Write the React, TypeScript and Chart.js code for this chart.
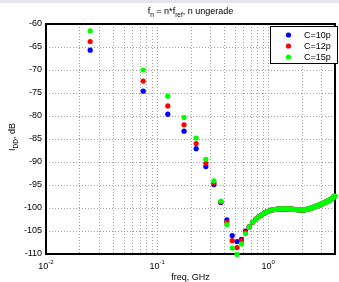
import React, { useEffect, useRef } from 'react';
import { Chart, registerables } from 'chart.js';

Chart.register(...registerables);

// frequencies of odd harmonics f_n = n * f_ref (GHz)
const freqGHz: number[] = [
  0.025, 0.075, 0.125, 0.175, 0.225, 0.275, 0.325, 0.375, 0.425, 0.475,
  0.525, 0.575, 0.625, 0.675, 0.725, 0.775, 0.825, 0.875, 0.925, 0.975,
  1.025, 1.075, 1.125, 1.175, 1.225, 1.275, 1.325, 1.375, 1.425, 1.475,
  1.525, 1.575, 1.625, 1.675, 1.725, 1.775, 1.825, 1.875, 1.925, 1.975,
  2.025, 2.075, 2.125, 2.175, 2.225, 2.275, 2.325, 2.375, 2.425, 2.475,
  2.525, 2.575, 2.625, 2.675, 2.725, 2.775, 2.825, 2.875, 2.925, 2.975,
  3.025, 3.075, 3.125, 3.175, 3.225, 3.275, 3.325, 3.375, 3.425, 3.475,
  3.525, 3.575, 3.625, 3.675, 3.725, 3.775, 3.825, 3.875, 3.925, 3.975,
];

// first 13 harmonics (n = 1..25), per series
const lowC10: number[] = [-65.7, -74.6, -79.6, -83.3, -87.1, -91.0, -94.9, -98.8, -102.6, -106.0, -107.3, -106.8, -105.0];
const lowC12: number[] = [-63.8, -72.4, -77.8, -81.9, -86.0, -90.3, -94.5, -98.7, -103.1, -107.1, -108.6, -107.1, -105.3];
const lowC15: number[] = [-61.5, -70.0, -75.7, -80.3, -84.8, -89.4, -94.1, -98.5, -103.6, -108.7, -110.1, -107.8, -105.6];

// n = 27..159 : the three series overlap
const tailAll: number[] = [
  -104.1, -103.1, -102.4, -101.9, -101.5, -101.1, -100.8,
  -100.6, -100.45, -100.35, -100.3, -100.25, -100.2, -100.2, -100.2, -100.2, -100.2,
  -100.2, -100.25, -100.25, -100.3, -100.3, -100.35, -100.35, -100.4, -100.4, -100.4,
  -100.4, -100.4, -100.4, -100.35, -100.3, -100.25, -100.2, -100.1, -100.05, -99.95,
  -99.9, -99.8, -99.75, -99.65, -99.6, -99.5, -99.4, -99.35, -99.25, -99.2,
  -99.1, -99.05, -99.0, -98.9, -98.8, -98.75, -98.65, -98.6, -98.5, -98.45,
  -98.35, -98.3, -98.2, -98.1, -98.0, -97.9, -97.8, -97.65, -97.55, -97.4,
];

const seriesLabels = ['C=10p', 'C=12p', 'C=15p'];
const seriesColors = ['#0000ff', '#ff0000', '#00ff00'];

const yTickValues = [-110, -105, -100, -95, -90, -85, -80, -75, -70, -65, -60];
const xGridValues = [
  0.01, 0.02, 0.03, 0.04, 0.05, 0.06, 0.07, 0.08, 0.09,
  0.1, 0.2, 0.3, 0.4, 0.5, 0.6, 0.7, 0.8, 0.9,
  1, 2, 3, 4,
];
const xLabelValues = [0.01, 0.1, 1];
const xLabelExps = ['-2', '-1', '0'];

const FONT = '"Liberation Sans", Arial, Helvetica, sans-serif';

type Part = { t: string; sub?: boolean; sup?: boolean };

function drawRich(ctx: CanvasRenderingContext2D, parts: Part[], x: number, y: number, align: 'center' | 'left', base = 9, small = 6.5) {
  const widths = parts.map((p) => {
    ctx.font = `${p.sub || p.sup ? small : base}px ${FONT}`;
    return ctx.measureText(p.t).width;
  });
  const total = widths.reduce((a, b) => a + b, 0);
  let cx = align === 'center' ? x - total / 2 : x;
  ctx.textAlign = 'left';
  ctx.textBaseline = 'alphabetic';
  parts.forEach((p, i) => {
    ctx.font = `${p.sub || p.sup ? small : base}px ${FONT}`;
    const dy = p.sub ? 3 : p.sup ? -5 : 0;
    ctx.fillText(p.t, cx, y + dy);
    cx += widths[i];
  });
}

const decorPlugin = {
  id: 'decor',
  beforeDraw(chart: any) {
    const ctx = chart.ctx as CanvasRenderingContext2D;
    ctx.save();
    ctx.fillStyle = '#ffffff';
    ctx.fillRect(0, 0, chart.width, chart.height);
    ctx.fillStyle = '#e6e6ee';
    ctx.fillRect(0, 0, chart.width, 3);
    ctx.restore();
  },
  beforeDatasetsDraw(chart: any) {
    const ctx = chart.ctx as CanvasRenderingContext2D;
    const { left, right, top, bottom } = chart.chartArea;
    const xs = chart.scales.x;
    const ys = chart.scales.y;
    ctx.save();
    ctx.strokeStyle = '#a0a0a0';
    ctx.lineWidth = 1;
    ctx.setLineDash([1, 2]);
    xGridValues.forEach((v) => {
      const px = Math.round(xs.getPixelForValue(v)) + 0.5;
      ctx.beginPath();
      ctx.moveTo(px, top);
      ctx.lineTo(px, bottom);
      ctx.stroke();
    });
    yTickValues.forEach((v) => {
      const py = Math.round(ys.getPixelForValue(v)) + 0.5;
      ctx.beginPath();
      ctx.moveTo(left, py);
      ctx.lineTo(right, py);
      ctx.stroke();
    });
    ctx.setLineDash([]);
    ctx.strokeStyle = '#000';
    ctx.lineWidth = 2;
    ctx.strokeRect(left, top, right - left, bottom - top);

    // y tick labels
    ctx.fillStyle = '#000';
    ctx.font = `9px ${FONT}`;
    ctx.textAlign = 'right';
    ctx.textBaseline = 'middle';
    yTickValues.forEach((v) => {
      const py = ys.getPixelForValue(v);
      ctx.fillText(String(v), left - 4, py);
    });
    // x tick labels
    xLabelValues.forEach((v, i) => {
      const px = xs.getPixelForValue(v);
      drawRich(ctx, [{ t: '10' }, { t: xLabelExps[i], sup: true }], px, bottom + 15, 'center', 9, 6);
    });
    // titles
    drawRich(ctx, [{ t: 'f' }, { t: 'n', sub: true }, { t: ' = n*f' }, { t: 'ref', sub: true }, { t: ', n ungerade' }], (left + right) / 2, 14, 'center');
    drawRich(ctx, [{ t: 'freq, GHz' }], (left + right) / 2, bottom + 26, 'center');
    ctx.save();
    ctx.translate(15, 137);
    ctx.rotate(-Math.PI / 2);
    drawRich(ctx, [{ t: 'I' }, { t: 'DD', sub: true }, { t: ', dB' }], 0, 0, 'center');
    ctx.restore();
    ctx.restore();
  },
  afterDatasetsDraw(chart: any) {
    const ctx = chart.ctx as CanvasRenderingContext2D;
    ctx.save();
    const bx = 270.5, by = 26.5, bw = 67, bh = 37;
    ctx.fillStyle = '#fff';
    ctx.fillRect(bx, by, bw, bh);
    ctx.strokeStyle = '#000';
    ctx.lineWidth = 1;
    ctx.strokeRect(bx, by, bw, bh);
    seriesLabels.forEach((lab, i) => {
      const yy = 35 + i * 11;
      ctx.fillStyle = seriesColors[i];
      ctx.beginPath();
      ctx.arc(288.5, yy, 2.6, 0, Math.PI * 2);
      ctx.fill();
      ctx.fillStyle = '#000';
      ctx.font = `9px ${FONT}`;
      ctx.textAlign = 'left';
      ctx.textBaseline = 'middle';
      ctx.fillText(lab, 304, yy + 0.5);
    });
    ctx.restore();
  },
};

export default function App() {
  const canvasRef = useRef<HTMLCanvasElement | null>(null);

  useEffect(() => {
    if (!canvasRef.current) return;
    const lows = [lowC10, lowC12, lowC15];
    const datasets = seriesLabels.map((label, i) => ({
      label,
      data: [...lows[i], ...tailAll].map((v, k) => ({ x: freqGHz[k], y: v })),
      showLine: false,
      pointRadius: 2.6,
      pointBorderWidth: 0,
      pointBackgroundColor: seriesColors[i],
      borderColor: seriesColors[i],
      backgroundColor: seriesColors[i],
      order: 3 - i,
      clip: 6,
    }));
    const chart = new Chart(canvasRef.current, {
      type: 'scatter',
      data: { datasets },
      plugins: [decorPlugin],
      options: {
        animation: false,
        responsive: false,
        devicePixelRatio: 1,
        layout: { padding: { top: 24, right: 1, left: 0, bottom: 0 } },
        plugins: { legend: { display: false }, tooltip: { enabled: false }, title: { display: false } },
        scales: {
          x: {
            type: 'logarithmic',
            min: 0.01,
            max: 4,
            afterFit: (s: any) => { s.height = 28; },
            ticks: { display: false },
            grid: { display: false },
            border: { display: false },
          },
          y: {
            type: 'linear',
            min: -110,
            max: -60,
            afterFit: (s: any) => { s.width = 46; },
            ticks: { display: false },
            grid: { display: false },
            border: { display: false },
          },
        },
      } as any,
    });
    return () => chart.destroy();
  }, []);

  return (
    <div style={{ position: 'fixed', left: 0, top: 0, width: 339, height: 282, background: '#fff' }}>
      <canvas ref={canvasRef} width={339} height={282} style={{ display: 'block' }} />
    </div>
  );
}
